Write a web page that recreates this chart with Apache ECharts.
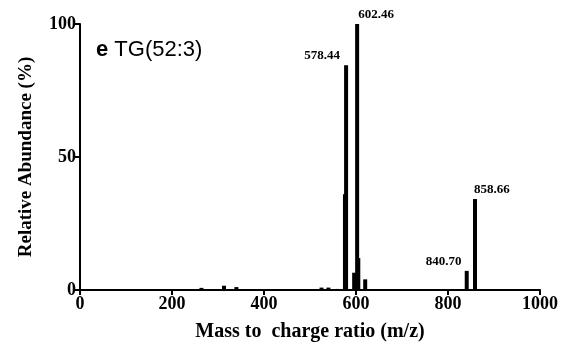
<!DOCTYPE html>
<html>
<head>
<meta charset="utf-8">
<script src="https://cdn.jsdelivr.net/npm/echarts@6/dist/echarts.min.js"></script>
<style>
  html, body { margin: 0; padding: 0; background: #fff; }
  #chart { width: 562px; height: 342px; }
</style>
</head>
<body>
<div id="chart"></div>
<script>
// labelled peaks
const peakMz = [578.44, 602.46, 840.70, 858.66];
const peakAbund = [84.5, 100, 7.2, 34.2];
// minor peaks / baseline noise
const minorMz = [264, 313, 340, 380, 420, 460, 500, 525, 540, 560, 576, 596, 605, 620, 660, 700, 740, 780, 800];
const minorAbund = [0.8, 1.6, 1.1, 0.3, 0.3, 0.3, 0.3, 0.9, 0.9, 0.4, 36, 6.5, 12, 4, 0.3, 0.3, 0.3, 0.3, 0.3];
const xTicks = [0, 200, 400, 600, 800, 1000];
const yTicks = [0, 50, 100];

const labelOffsets = { 578.44: [-24, 0], 602.46: [19, 0], 840.70: [-23, 0], 858.66: [17, 0] };
const serif = '"Liberation Serif", "Times New Roman", serif';
const sans = '"Liberation Sans", Arial, sans-serif';

const peakData = peakMz.map((mz, i) => ({
    value: [mz, peakAbund[i]],
    label: {
        show: true,
        position: 'top',
        offset: labelOffsets[mz],
        formatter: mz.toFixed(2),
    },
}));
const minorData = minorMz.map((mz, i) => [mz, minorAbund[i]]);

const chart = echarts.init(document.getElementById('chart'));
chart.setOption({
    animation: false,
    title: {
        text: '{b|e} TG(52:3)',
        left: 91,
        top: 34,
        textStyle: {
            fontFamily: sans,
            fontSize: 22,
            fontWeight: 'normal',
            color: '#000',
            rich: {
                b: { fontFamily: sans, fontSize: 22, fontWeight: 'bold', color: '#000' },
            },
        },
    },
    grid: { left: 80, right: 22, top: 24, bottom: 52, outerBoundsMode: 'none', containLabel: false },
    xAxis: {
        type: 'value',
        min: xTicks[0],
        max: xTicks[xTicks.length - 1],
        interval: 200,
        name: 'Mass to  charge ratio (m/z)',
        nameLocation: 'middle',
        nameGap: 32,
        nameTextStyle: { fontFamily: serif, fontWeight: 'bold', fontSize: 20, color: '#000' },
        axisLine: { lineStyle: { color: '#000', width: 2 } },
        axisTick: { show: true, length: 5, lineStyle: { color: '#000', width: 2 } },
        axisLabel: { fontFamily: serif, fontWeight: 'bold', fontSize: 18, color: '#000', margin: 5, formatter: v => String(v) },
        splitLine: { show: false },
    },
    yAxis: {
        type: 'value',
        min: yTicks[0],
        max: yTicks[yTicks.length - 1],
        interval: 50,
        name: 'Relative Abundance (%)',
        nameLocation: 'middle',
        nameGap: 44,
        nameTextStyle: { fontFamily: serif, fontWeight: 'bold', fontSize: 19, color: '#000' },
        axisLine: { show: true, lineStyle: { color: '#000', width: 2 } },
        axisTick: { show: true, length: 5, lineStyle: { color: '#000', width: 2 } },
        axisLabel: { fontFamily: serif, fontWeight: 'bold', fontSize: 18, color: '#000', margin: 4 },
        splitLine: { show: false },
    },
    series: [
        {
            type: 'bar',
            barWidth: 4,
            itemStyle: { color: '#000' },
            data: minorData,
            z: 2,
        },
        {
            type: 'bar',
            barWidth: 4,
            barGap: '-100%',
            itemStyle: { color: '#000' },
            label: { fontFamily: serif, fontWeight: 'bold', fontSize: 13, color: '#000', distance: 3 },
            data: peakData,
            z: 3,
        },
    ],
});
</script>
</body>
</html>
